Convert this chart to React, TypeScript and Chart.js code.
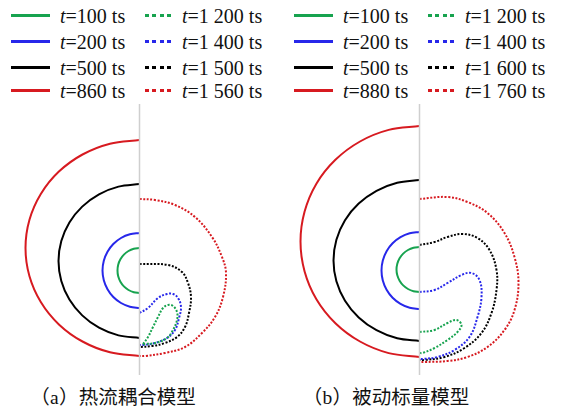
import React, { useEffect, useRef } from "react";
import { Chart, registerables } from "chart.js";

Chart.register(...registerables);

type Pt = [number, number];

// Colours of the four time levels (green, blue, black, red)
const COLORS = ["#17a34f", "#2727ea", "#000000", "#d71a20"];
const AXIS_COLOR = "#cfcfcf";

// Legend time labels
const A_SOLID_TIMES = ["100", "200", "500", "860"];
const A_DOTTED_TIMES = ["1 200", "1 400", "1 500", "1 560"];
const B_SOLID_TIMES = ["100", "200", "500", "880"];
const B_DOTTED_TIMES = ["1 200", "1 400", "1 600", "1 760"];
const CAPTION_TAGS = ["a", "b"];
const CAPTION_TEXTS = ["热流耦合模型", "被动标量模型"];

// Symmetry axis (x = 0), shared by both panels
const AXIS_LINE: Pt[] = [[0, 0], [0, 271]];

// ---- Panel (a): heat-flow coupled model ----
const A_T100: Pt[] = [[0, 127], [-5.7, 126.2], [-11, 124], [-15.6, 120.4], [-19.1, 115.8], [-21.3, 110.3], [-22, 104.5], [-21.3, 98.7], [-19.1, 93.3], [-15.6, 88.6], [-11, 85], [-5.7, 82.8], [0, 82]];
const A_T200: Pt[] = [[0, 142], [-9.6, 140.7], [-18.5, 137], [-26.2, 131], [-32, 123.3], [-35.7, 114.2], [-37, 104.5], [-35.7, 94.8], [-32, 85.8], [-26.2, 78], [-18.5, 72], [-9.6, 68.3], [0, 67]];
const A_T500: Pt[] = [[0, 191], [-21, 188.4], [-40.5, 180.7], [-57.3, 168.4], [-70.1, 152.5], [-78.2, 133.9], [-81, 114], [-78.2, 94.1], [-70.1, 75.5], [-57.3, 59.6], [-40.5, 47.3], [-21, 39.6], [0, 37]];
const A_T860: Pt[] = [[0, 235], [-29.5, 231.3], [-57, 220.5], [-80.6, 203.4], [-98.7, 181], [-110.1, 155], [-114, 127], [-110.1, 99], [-98.7, 73], [-80.6, 50.6], [-57, 33.5], [-29.5, 22.7], [0, 19]];
const A_T1200: Pt[] = [[3.5, 31], [8.5, 38], [13.5, 48], [18.5, 58], [23.5, 67], [28.5, 70], [33.5, 69], [37.5, 63], [37.5, 55], [33.5, 45], [27.5, 37], [15.5, 32], [5.5, 31], [2.5, 30]];
const A_T1400: Pt[] = [[0, 62], [8.5, 67], [18.5, 77], [27.5, 81], [33.5, 81], [38.5, 77], [41.5, 68], [39.5, 57], [35.5, 45], [27.5, 37], [15.5, 32], [3.5, 30], [0, 30]];
const A_T1500: Pt[] = [[0, 111], [28.5, 110], [42.5, 103], [48.5, 92], [51.5, 78], [49.5, 62], [45.5, 48], [37.5, 38], [25.5, 32], [12.5, 29], [0, 28]];
const A_T1560: Pt[] = [[0, 176], [15.5, 175], [35.5, 170], [55.5, 158], [72.5, 138], [82.5, 118], [86.5, 102], [83.5, 78], [75.5, 58], [62.5, 42], [45.5, 28], [25.5, 22], [5.5, 19], [0, 19]];

// ---- Panel (b): passive scalar model ----
const B_T100: Pt[] = [[0, 128], [-6, 127.2], [-11.5, 125], [-16.3, 121.4], [-19.9, 116.8], [-22.2, 111.3], [-23, 105.5], [-22.2, 99.7], [-19.9, 94.3], [-16.3, 89.6], [-11.5, 86], [-6, 83.8], [0, 83]];
const B_T200: Pt[] = [[0, 143], [-9.8, 141.7], [-19, 137.8], [-26.9, 131.7], [-32.9, 123.8], [-36.7, 114.5], [-38, 104.5], [-36.7, 94.5], [-32.9, 85.3], [-26.9, 77.3], [-19, 71.2], [-9.8, 67.3], [0, 66]];
const B_T500: Pt[] = [[0, 195], [-22.3, 192.3], [-43, 184.2], [-60.8, 171.4], [-74.5, 154.8], [-83.1, 135.3], [-86, 114.5], [-83.1, 93.7], [-74.5, 74.3], [-60.8, 57.6], [-43, 44.8], [-22.3, 36.7], [0, 34]];
const B_T880: Pt[] = [[0, 249], [-30.8, 245.1], [-59.5, 233.5], [-84.1, 215.2], [-103.1, 191.3], [-114.9, 163.4], [-119, 133.5], [-114.9, 103.6], [-103.1, 75.8], [-84.1, 51.8], [-59.5, 33.5], [-30.8, 21.9], [0, 18]];
const B_T1200: Pt[] = [[0, 43], [15, 45], [28, 52], [37, 55], [42, 50], [38, 43], [28, 35], [15, 27], [3, 22], [0, 22]];
const B_T1400: Pt[] = [[0, 83], [15, 85], [28, 92], [42, 100], [52, 102], [60, 95], [62, 78], [58, 58], [50, 38], [35, 25], [18, 18], [3, 16], [0, 16]];
const B_T1600: Pt[] = [[0, 130], [15, 133], [28, 138], [43, 141], [58, 137], [70, 125], [77, 105], [77, 85], [72, 62], [62, 42], [45, 27], [25, 18], [5, 15], [0, 15]];
const B_T1760: Pt[] = [[0, 176], [28, 178], [48, 173], [68, 162], [85, 142], [95, 118], [99, 92], [95, 65], [85, 45], [68, 28], [48, 18], [28, 14], [5, 13], [0, 13]];

// Visible window of each panel in data units
const Y_RANGE: [number, number] = [-5, 275];
const A_X_RANGE: [number, number] = [-139.5, 143.5];
const B_X_RANGE: [number, number] = [-136.5, 146.5];

const PANEL_W = 283;
const PANEL_H = 280;
const PANEL_TOP = 100;

const toXY = (pts: Pt[]) => pts.map(([x, y]) => ({ x, y }));

function Panel(props: { left: number; solid: Pt[][]; dotted: Pt[][]; xRange: [number, number] }) {
  const ref = useRef<HTMLCanvasElement>(null);
  useEffect(() => {
    if (!ref.current) return;
    const datasets: any[] = [
      {
        data: toXY(AXIS_LINE),
        borderColor: AXIS_COLOR,
        borderWidth: 1.5,
        pointRadius: 0,
        tension: 0,
      },
    ];
    props.solid.forEach((pts, i) =>
      datasets.push({
        data: toXY(pts),
        borderColor: COLORS[i],
        borderWidth: 2,
        pointRadius: 0,
        tension: 0.34,
        fill: false,
      })
    );
    props.dotted.forEach((pts, i) =>
      datasets.push({
        data: toXY(pts),
        borderColor: COLORS[i],
        borderWidth: 2,
        borderDash: [2, 1.6],
        pointRadius: 0,
        tension: 0.38,
        fill: false,
      })
    );
    const chart = new Chart(ref.current, {
      type: "line",
      data: { datasets },
      options: {
        animation: false,
        responsive: false,
        maintainAspectRatio: false,
        events: [],
        layout: { padding: 0 },
        plugins: { legend: { display: false }, tooltip: { enabled: false } },
        scales: {
          x: { type: "linear", display: false, min: props.xRange[0], max: props.xRange[1] },
          y: { type: "linear", display: false, min: Y_RANGE[0], max: Y_RANGE[1] },
        },
      },
    });
    return () => chart.destroy();
  }, []);
  return (
    <canvas
      ref={ref}
      width={PANEL_W}
      height={PANEL_H}
      style={{ position: "absolute", left: props.left, top: PANEL_TOP, width: PANEL_W, height: PANEL_H }}
    />
  );
}

const ROW_Y = [15.5, 41.5, 67.5, 90.5];
const SERIF = "'Liberation Serif', 'Tinos', 'Times New Roman', 'DejaVu Serif', serif";

function LegendItem(props: { lineX: number; lineW: number; textX: number; y: number; color: string; dotted: boolean; time: string }) {
  const sample: React.CSSProperties = {
    position: "absolute",
    left: props.lineX,
    top: props.y - 1.5,
    width: props.lineW,
    height: 3,
    background: props.dotted
      ? `repeating-linear-gradient(to right, ${props.color} 0px, ${props.color} 4px, transparent 4px, transparent 7.5px)`
      : props.color,
  };
  return (
    <>
      <div style={sample} />
      <div
        style={{
          position: "absolute",
          left: props.textX,
          top: props.y - 10,
          fontFamily: SERIF,
          fontSize: 20,
          lineHeight: "20px",
          whiteSpace: "nowrap",
          color: "#111",
        }}
      >
        <i>t</i>={props.time} ts
      </div>
    </>
  );
}

function Legend(props: { solidTimes: string[]; dottedTimes: string[]; x0: number }) {
  const { x0 } = props;
  return (
    <>
      {props.solidTimes.map((t, i) => (
        <LegendItem key={"s" + i} lineX={x0 + 11} lineW={39} textX={x0 + 60} y={ROW_Y[i]} color={COLORS[i]} dotted={false} time={t} />
      ))}
      {props.dottedTimes.map((t, i) => (
        <LegendItem key={"d" + i} lineX={x0 + 145} lineW={28} textX={x0 + 182} y={ROW_Y[i]} color={COLORS[i]} dotted={true} time={t} />
      ))}
    </>
  );
}

const CAPTION_CSS = `
.cap { position:absolute; top:386px; white-space:nowrap; color:#111;
  font-family:'Liberation Serif','Noto Sans CJK SC',serif; font-size:19.5px; line-height:19px;
  text-spacing-trim: space-all; font-feature-settings: "halt" 0, "chws" 0, "palt" 0; }
.cap .p { display:inline-block; width:20px; text-align:center; font-family:'Noto Sans CJK SC',sans-serif; }
`;

function Caption(props: { left: number; tag: string; text: string }) {
  return (
    <div className="cap" lang="zh-CN" style={{ left: props.left }}>
      <span className="p">（</span>
      {props.tag}
      <span className="p">）</span>
      {props.text}
    </div>
  );
}

export default function App() {
  return (
    <div style={{ position: "absolute", left: 0, top: 0, width: 566, height: 409, background: "#fff", overflow: "hidden" }}>
      <style>{CAPTION_CSS}</style>
      <Legend solidTimes={A_SOLID_TIMES} dottedTimes={A_DOTTED_TIMES} x0={0} />
      <Legend solidTimes={B_SOLID_TIMES} dottedTimes={B_DOTTED_TIMES} x0={283} />
      <Panel left={0} xRange={A_X_RANGE} solid={[A_T100, A_T200, A_T500, A_T860]} dotted={[A_T1200, A_T1400, A_T1500, A_T1560]} />
      <Panel left={283} xRange={B_X_RANGE} solid={[B_T100, B_T200, B_T500, B_T880]} dotted={[B_T1200, B_T1400, B_T1600, B_T1760]} />
      <Caption left={30} tag={CAPTION_TAGS[0]} text={CAPTION_TEXTS[0]} />
      <Caption left={302.5} tag={CAPTION_TAGS[1]} text={CAPTION_TEXTS[1]} />
    </div>
  );
}
